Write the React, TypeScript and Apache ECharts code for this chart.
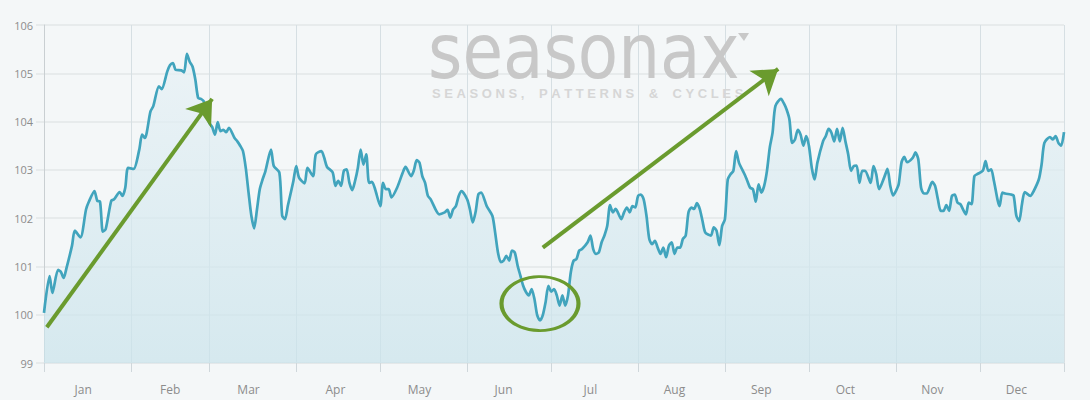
import React, { useEffect, useRef } from "react";
import * as echarts from "echarts";

const monthNames = ["Jan", "Feb", "Mar", "Apr", "May", "Jun", "Jul", "Aug", "Sep", "Oct", "Nov", "Dec"];
const monthStartDays = [0, 31, 59, 90, 120, 151, 181, 212, 243, 273, 304, 334, 364];
const monthLabelDays = [14, 45, 73, 104, 134, 164, 195, 225, 256, 286, 317, 347];
const DAYS_IN_YEAR = 365;
const yMin = 99;
const yMax = 106;
const yStep = 1;

const seriesDays = [
  0, 2, 3, 5, 6, 7, 8, 10, 11, 13, 15, 16, 18, 19, 20, 21, 22, 24, 25, 27, 28, 29, 30, 32, 34, 35, 36, 38, 39, 41, 42,
  44, 45, 46, 47, 49, 50, 51, 52, 53, 54, 55, 56, 57, 59, 60, 61, 62, 63, 64, 65, 66, 68, 69, 70, 71, 72, 73, 74, 75,
  76, 77, 78, 79, 81, 82, 84, 85, 86, 87, 89, 90, 91, 93, 94, 96, 97, 99, 100, 101, 103, 104, 105, 106, 107, 108, 109,
  110, 111, 112, 113, 114, 115, 116, 117, 118, 120, 121, 122, 123, 124, 126, 128, 129, 131, 132, 133, 134, 135, 136,
  137, 138, 140, 141, 143, 144, 145, 146, 147, 148, 149, 151, 152, 153, 154, 155, 156, 158, 160, 161, 162, 163, 164,
  165, 166, 167, 168, 169, 170, 171, 172, 173, 174, 175, 176, 177, 178, 179, 180, 181, 182, 183, 184, 185, 186, 187,
  188, 189, 190, 191, 192, 194, 195, 196, 197, 198, 199, 200, 201, 202, 203, 204, 206, 207, 208, 209, 210, 211, 212,
  213, 214, 215, 216, 217, 218, 219, 220, 221, 222, 223, 224, 225, 226, 227, 228, 229, 230, 231, 232, 233, 234, 235,
  236, 238, 239, 240, 241, 242, 243, 244, 245, 246, 247, 248, 250, 251, 252, 253, 254, 255, 256, 257, 258, 259, 260,
  261, 263, 264, 265, 266, 267, 268, 269, 270, 271, 272, 273, 274, 275, 276, 278, 279, 280, 281, 282, 283, 284, 285,
  286, 287, 288, 289, 290, 291, 292, 293, 295, 296, 297, 298, 300, 301, 302, 303, 304, 305, 306, 307, 308, 310, 311,
  312, 313, 314, 315, 317, 318, 319, 320, 321, 322, 323, 324, 325, 326, 327, 329, 330, 331, 332, 333, 335, 336, 337,
  338, 339, 341, 342, 343, 345, 346, 347, 348, 349, 350, 352, 353, 355, 356, 357, 359, 360, 361, 362, 363, 364,
];

const seriesValues = [
  100.04, 100.8, 100.45, 100.93, 100.89, 100.76, 100.96, 101.43, 101.74, 101.6, 102.18, 102.34, 102.56, 102.36, 102.34,
  101.72, 101.77, 102.36, 102.39, 102.54, 102.46, 102.63, 103.04, 103.02, 103.42, 103.73, 103.66, 104.21, 104.32,
  104.73, 104.67, 105.04, 105.17, 105.21, 105.07, 105.06, 105.02, 105.4, 105.24, 105.14, 104.87, 104.49, 104.47,
  104.42, 103.97, 103.89, 103.73, 103.99, 103.8, 103.83, 103.78, 103.87, 103.66, 103.59, 103.5, 103.39, 103.04,
  102.53, 102.05, 101.79, 102.18, 102.6, 102.8, 102.97, 103.42, 103.08, 102.94, 102.05, 101.98, 102.25, 102.77,
  103.08, 102.84, 102.72, 103.04, 102.87, 103.32, 103.39, 103.25, 103.06, 102.95, 102.67, 102.77, 102.67, 102.98,
  103.01, 102.73, 102.58, 102.77, 103.04, 103.42, 103.11, 103.32, 102.73, 102.75, 102.63, 102.25, 102.73, 102.6,
  102.6, 102.43, 102.63, 102.94, 103.06, 102.87, 102.99, 103.2, 103.15, 102.87, 102.73, 102.46, 102.39, 102.15,
  102.08, 102.12, 102.17, 102.01, 102.18, 102.25, 102.46, 102.56, 102.39, 102.18, 101.91, 102.12, 102.49, 102.53,
  102.25, 102.05, 101.7, 101.29, 101.09, 101.12, 101.22, 101.12, 101.33, 101.29, 101.02, 100.81, 100.6, 100.47, 100.4,
  100.53, 100.33, 99.99, 99.88, 99.99, 100.26, 100.6, 100.48, 100.53, 100.4, 100.19, 100.4, 100.19, 100.4, 100.88,
  101.12, 101.15, 101.33, 101.36, 101.5, 101.64, 101.36, 101.26, 101.29, 101.5, 101.64, 101.84, 102.27, 102.12,
  102.19, 101.98, 102.12, 102.22, 102.12, 102.25, 102.22, 102.46, 102.49, 102.39, 102.05, 101.57, 101.46, 101.53,
  101.39, 101.26, 101.39, 101.19, 101.43, 101.5, 101.26, 101.39, 101.39, 101.57, 101.64, 102.12, 102.22, 102.19,
  102.31, 102.19, 101.94, 101.7, 101.64, 101.81, 101.74, 101.44, 101.84, 101.98, 102.8, 102.91, 102.98, 103.39,
  103.15, 102.91, 102.77, 102.63, 102.6, 102.34, 102.7, 102.53, 102.67, 102.98, 103.46, 103.77, 104.32, 104.47,
  104.38, 104.25, 104.05, 103.56, 103.63, 103.83, 103.73, 103.5, 103.7, 103.49, 103.04, 102.8, 103.15, 103.59, 103.7,
  103.85, 103.77, 103.59, 103.85, 103.59, 103.87, 103.59, 103.32, 102.98, 103.08, 103.09, 102.73, 102.98, 102.98,
  102.73, 103.08, 102.91, 102.6, 102.87, 103.02, 102.67, 102.47, 102.56, 102.7, 103.15, 103.27, 103.16, 103.25,
  103.36, 103.22, 102.63, 102.51, 102.51, 102.75, 102.67, 102.39, 102.15, 102.15, 102.27, 102.15, 102.46, 102.49,
  102.32, 102.29, 102.08, 102.32, 102.29, 102.87, 102.91, 102.98, 103.18, 102.98, 103.01, 102.77, 102.25, 102.53,
  102.51, 102.49, 102.47, 102.05, 101.94, 102.29, 102.54, 102.46, 102.54, 102.8, 103.11, 103.56, 103.68, 103.63,
  103.7, 103.56, 103.5, 103.78,
];

// annotation anchors in data space (day index, value)
const arrowWinter = [
  [1, 99.74],
  [60, 104.47],
];
const arrowSummer = [
  [178, 101.39],
  [262, 105.09],
];
const lowMarker = [177, 100.23];

const LINE_COLOR = "#41a4bd";
const GREEN = "#6a9b2e";
const LABEL_COLOR = "#8c8c8c";
const GRID_COLOR = "#e3e7e9";
const VGRID_COLOR = "#d6dfe3";
const BG = "#f4f7f8";

export default function App() {
  const ref = useRef<HTMLDivElement>(null);

  useEffect(() => {
    document.body.style.margin = "0";
    const el = ref.current;
    if (!el) return;
    const chart = echarts.init(el, null, { renderer: "svg" });

    const categories = Array.from({ length: DAYS_IN_YEAR }, (_, i) => String(i));
    const lineData = seriesDays.map((d, i) => [d, seriesValues[i]]);
    const isMonthStart = (i: number) => monthStartDays.includes(i);
    const isLabelDay = (i: number) => monthLabelDays.includes(i);

    const arrowEnd = (c: number[]) => ({ coord: c, symbol: "arrow", symbolSize: 24 });
    const arrowStart = (c: number[]) => ({ coord: c, symbol: "none" });

    const option: any = {
      animation: false,
      backgroundColor: BG,
      grid: { left: 44, right: 26, top: 25, bottom: 37, containLabel: false },
      xAxis: {
        type: "category",
        data: categories,
        boundaryGap: false,
        axisLine: { show: true, lineStyle: { color: GRID_COLOR, width: 1.5 } },
        axisTick: {
          show: true,
          interval: (i: number) => isMonthStart(i),
          length: 9,
          lineStyle: { color: "#cfd7db", width: 1 },
        },
        splitLine: {
          show: true,
          interval: (i: number) => isMonthStart(i),
          lineStyle: { color: VGRID_COLOR, width: 1 },
        },
        axisLabel: {
          interval: (i: number) => isLabelDay(i),
          formatter: (_v: string, i: number) => monthNames[monthLabelDays.indexOf(i)] ?? "",
          color: LABEL_COLOR,
          fontSize: 12,
          fontFamily: "Open Sans",
          margin: 20,
        },
      },
      yAxis: {
        type: "value",
        min: yMin,
        max: yMax,
        interval: yStep,
        axisLine: { show: true, lineStyle: { color: "#c9cfd2", width: 1 } },
        axisTick: { show: true, length: 8, lineStyle: { color: GRID_COLOR, width: 1.5 } },
        splitLine: { show: true, lineStyle: { color: GRID_COLOR, width: 1.5 } },
        axisLabel: { color: LABEL_COLOR, fontSize: 11, fontFamily: "Open Sans", margin: 11 },
      },
      graphic: [
        {
          type: "text",
          x: 428,
          y: 51,
          scaleY: 1.17,
          z: 1,
          silent: true,
          style: {
            text: "seasonax",
            font: '66px "DejaVu Sans"',
            fill: "#c8c8c8",
            textAlign: "left",
            textVerticalAlign: "middle",
          },
        },
        {
          type: "polygon",
          z: 1,
          silent: true,
          shape: {
            points: [
              [738, 33],
              [749, 33],
              [744, 41],
            ],
          },
          style: { fill: "#c8c8c8" },
        },
        {
          type: "text",
          x: 432,
          y: 93,
          z: 1,
          silent: true,
          style: {
            text: "S\u00a0E\u00a0A\u00a0S\u00a0O\u00a0N\u00a0S\u00a0,\u00a0\u00a0\u00a0\u00a0P\u00a0A\u00a0T\u00a0T\u00a0E\u00a0R\u00a0N\u00a0S\u00a0\u00a0\u00a0\u00a0&\u00a0\u00a0\u00a0\u00a0C\u00a0Y\u00a0C\u00a0L\u00a0E\u00a0S",
            font: 'bold 13px "Liberation Sans"',
            fill: "#d6d6d6",
            textAlign: "left",
            textVerticalAlign: "middle",
          },
        },
      ],
      series: [
        {
          type: "line",
          data: lineData,
          z: 3,
          smooth: 0.25,
          showSymbol: false,
          symbol: "none",
          lineStyle: { color: LINE_COLOR, width: 2.7 },
          areaStyle: {
            origin: "start",
            color: new echarts.graphic.LinearGradient(0, 0, 0, 1, [
              { offset: 0, color: "#e7f1f5" },
              { offset: 1, color: "#c9e3eb" },
            ]),
          },
          silent: true,
          markLine: {
            silent: true,
            symbol: ["none", "arrow"],
            symbolSize: 24,
            label: { show: false },
            lineStyle: { color: GREEN, width: 4, type: "solid" },
            emphasis: { disabled: true },
            data: [
              [arrowStart(arrowWinter[0]), arrowEnd(arrowWinter[1])],
              [arrowStart(arrowSummer[0]), arrowEnd(arrowSummer[1])],
            ],
          },
          markPoint: {
            silent: true,
            symbol: "circle",
            symbolSize: [77, 54],
            label: { show: false },
            itemStyle: { color: "rgba(0,0,0,0)", borderColor: GREEN, borderWidth: 3.5 },
            data: [{ coord: lowMarker }],
          },
        },
      ],
    };

    chart.setOption(option);
    return () => chart.dispose();
  }, []);

  return (
    <div
      ref={ref}
      style={{ position: "absolute", left: 0, top: 0, width: 1090, height: 400, background: BG }}
    />
  );
}
